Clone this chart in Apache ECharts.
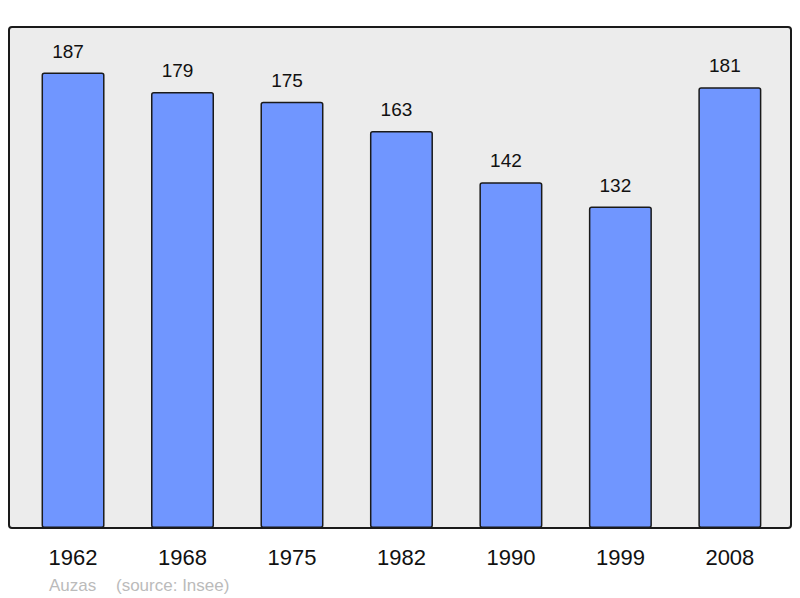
<!DOCTYPE html>
<html>
<head>
<meta charset="utf-8">
<script src="https://cdn.jsdelivr.net/npm/echarts@6/dist/echarts.min.js"></script>
<style>html,body{margin:0;padding:0;background:#fff}#c{width:800px;height:598px}</style>
</head>
<body>
<div id="c"></div>
<script>
const years = ['1962', '1968', '1975', '1982', '1990', '1999', '2008'];
const population = [187, 179, 175, 163, 142, 132, 181];
const commune = 'Auzas';
const source = '(source: Insee)';

const chart = echarts.init(document.getElementById('c'), null, {renderer: 'svg'});
const font = '"Liberation Sans", Arial, sans-serif';
chart.setOption({
  animation: false,
  backgroundColor: '#fff',
  graphic: [
    {type: 'rect', z: -10, shape: {x: 9, y: 27, width: 782, height: 501, r: 3},
     style: {fill: '#ececec', stroke: '#1a1a1a', lineWidth: 2}},
    {type: 'text', left: 49, top: 577,
     style: {text: commune, fill: '#bbbbbb', font: '17px ' + font}},
    {type: 'text', left: 116, top: 577,
     style: {text: source, fill: '#bbbbbb', font: '17px ' + font}}
  ],
  grid: {left: 18.3, right: 15.4, top: 27, bottom: 70, containLabel: false},
  xAxis: {
    type: 'category', data: years,
    axisLine: {show: false}, axisTick: {show: false},
    axisLabel: {color: '#111', fontSize: 22, fontFamily: font, margin: 18}
  },
  yAxis: {
    type: 'value', min: 0, max: 187 * 1.1,
    show: false, splitLine: {show: false}
  },
  series: [{
    type: 'bar', data: population, barWidth: 63,
    itemStyle: {color: '#7096ff', borderColor: '#1a1a1a', borderWidth: 1.5, borderRadius: 2},
    label: {show: true, position: 'top', distance: 12, offset: [-5, 0],
      color: '#111', fontSize: 19, fontFamily: font}
  }]
});
</script>
</body>
</html>
